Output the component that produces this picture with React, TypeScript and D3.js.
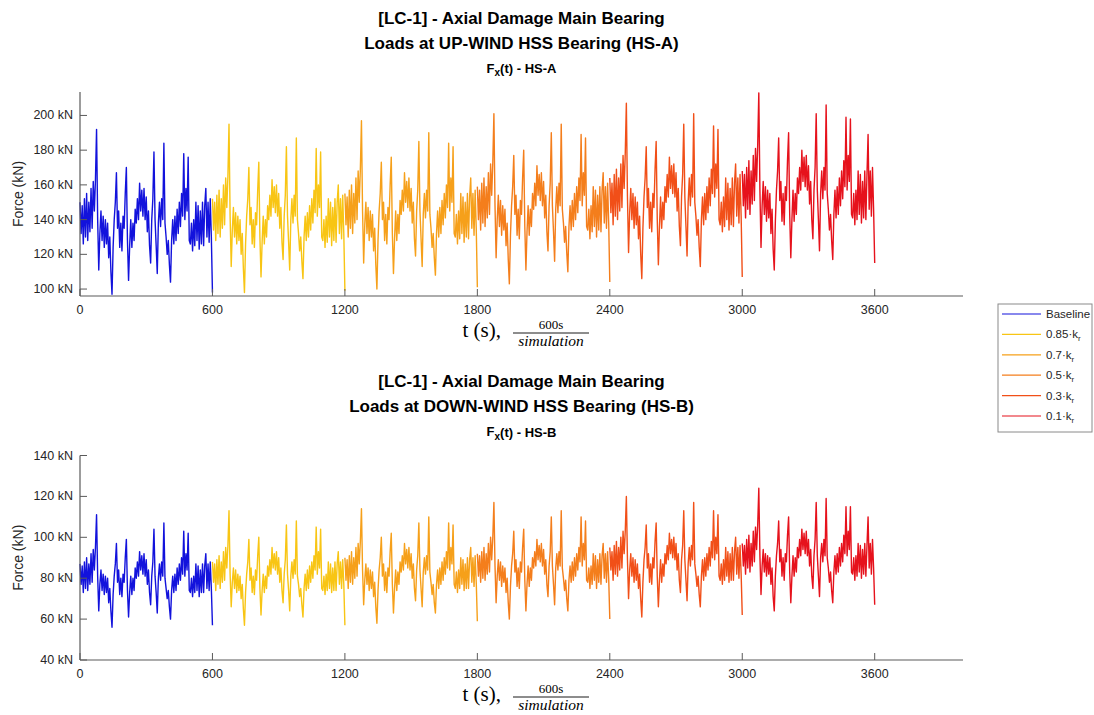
import React from 'react';
import * as d3 from 'd3';

// ---------- data ----------
const SAMPLE_STEP = 5; // s between samples
const SEGMENT_STARTS = [0, 600, 1200, 1800, 2400, 3000];
const SERIES_LABELS = ['Baseline', '0.85', '0.7', '0.5', '0.3', '0.1'];
const SERIES_COLORS = ['#1212dc', '#f8c514', '#f6a01a', '#f47e1c', '#f14f18', '#e6121c'];
const X_TICKS = [0, 600, 1200, 1800, 2400, 3000, 3600];
const X_DOMAIN = [0, 4000];
const TOP_Y_TICKS = [100, 120, 140, 160, 180, 200];
const TOP_Y_DOMAIN = [96, 213.5];
const BOTTOM_Y_TICKS = [40, 60, 80, 100, 120, 140];
const BOTTOM_Y_DOMAIN = [40, 140];

// HS-A (up-wind) axial force, kN, one value every 5 s of each 600 s simulation
const HSA_BASELINE = [
  150,132,148,126,152,130,155,128,150,133, 158,135,162,145,163,192,140,111,132,145,
  128,142,124,140,126,138,118,130,110,97, 124,140,150,167,135,145,124,138,122,142,
  135,155,170,128,105,125,140,124,138,128, 146,138,152,140,161,145,157,142,158,140,
  153,133,145,125,115,140,152,179,140,125, 109,138,150,136,152,140,184,138,130,120,
  128,114,104,128,140,126,142,128,146,132, 150,136,155,142,178,140,158,145,176,128,
  126,138,122,140,125,150,128,148,123,145, 126,150,125,148,158,130,150,127,152,130, 98];
const HSA_085 = [
  152,134,150,128,154,132,157,130,152,135, 160,137,164,147,165,195,142,113,134,147,
  130,144,126,142,128,140,120,132,112,98, 126,142,152,170,137,147,126,140,124,144,
  137,157,173,130,107,127,142,126,140,130, 148,140,154,142,163,147,159,144,160,142,
  155,135,147,127,117,142,154,182,142,127, 111,140,152,138,154,142,187,140,132,122,
  130,116,106,130,142,128,144,130,148,134, 152,138,157,144,181,142,160,147,179,130,
  128,140,124,142,127,152,130,150,125,147, 128,152,127,150,160,132,152,129,154,132, 99];
const HSA_07 = [
  155,137,153,130,157,135,160,132,155,138, 164,140,168,150,169,197,145,115,137,150,
  132,147,128,145,130,143,122,135,114,100, 128,145,155,173,140,150,128,143,126,147,
  140,160,176,132,109,129,145,128,143,132, 151,143,157,145,167,150,162,147,164,145,
  158,138,150,129,119,145,157,185,145,129, 113,143,155,141,157,145,190,143,135,124,
  132,118,108,132,145,130,147,132,151,137, 155,141,160,147,184,145,164,150,182,132,
  130,143,126,145,129,155,132,153,127,150, 130,155,129,153,164,135,155,131,157,135, 101];
const HSA_05 = [
  159,140,157,134,161,138,164,136,159,141, 167,143,172,154,173,201,148,118,140,154,
  136,151,131,148,134,146,125,138,117,103, 131,148,159,177,143,154,131,146,129,151,
  143,164,180,136,111,133,148,131,146,136, 155,146,161,148,171,154,166,151,167,148,
  162,141,154,133,122,148,161,190,148,133, 116,146,159,144,161,148,195,146,138,127,
  136,121,110,136,148,134,151,136,155,140, 159,144,164,151,189,148,167,154,187,136,
  134,146,129,148,133,159,136,157,130,154, 134,159,133,157,167,138,159,135,161,138, 104];
const HSA_03 = [
  164,144,161,137,166,142,169,140,164,145, 172,147,177,158,178,207,153,121,144,158,
  140,155,135,153,137,150,129,142,120,106, 135,153,164,182,147,158,135,150,133,155,
  147,169,185,140,114,136,153,135,150,140, 159,150,166,153,176,158,171,155,172,153,
  167,145,158,136,125,153,166,195,153,136, 119,150,164,148,166,153,201,150,142,131,
  140,124,113,140,153,137,155,140,159,144, 164,148,169,155,194,153,172,158,192,140,
  137,150,133,153,136,164,140,161,134,158, 137,164,136,161,172,142,164,138,166,142, 107];
const HSA_01 = [
  168,148,166,141,170,146,174,143,168,149, 177,151,181,162,183,213,157,124,148,162,
  143,159,139,157,141,155,132,146,123,111, 139,157,168,187,151,162,139,155,137,159,
  151,174,190,143,118,140,157,139,155,143, 164,155,170,157,180,162,176,159,177,157,
  171,149,162,140,129,157,170,201,157,140, 122,155,168,152,170,157,206,155,146,134,
  143,128,117,143,157,141,159,143,164,148, 168,152,174,159,199,157,177,162,198,143,
  141,155,137,157,140,168,143,166,138,162, 141,168,140,166,189,146,168,142,170,146, 115];

// HS-B (down-wind) axial force, kN
const HSB_BASELINE = [
  87,77,86,73,88,75,90,74,87,77, 92,78,94,84,95,111,81,64,77,84,
  74,82,72,81,73,80,68,75,64,56, 72,81,87,97,78,84,72,80,71,82,
  78,90,99,74,61,73,81,72,80,74, 85,80,88,81,93,84,91,82,92,81,
  89,77,84,73,67,81,88,104,81,73, 63,80,87,79,88,81,107,80,75,70,
  74,66,60,74,81,73,82,74,85,77, 87,79,90,82,103,81,92,84,102,74,
  73,80,71,81,73,87,74,86,71,84, 73,87,73,86,92,75,87,74,88,75, 57];
const HSB_085 = [
  88,78,87,74,89,77,91,75,88,78, 93,79,95,85,96,113,82,66,78,85,
  75,84,73,82,74,81,70,77,65,57, 73,82,88,99,79,85,73,81,72,84,
  79,91,100,75,62,74,82,73,81,75, 86,81,89,82,95,85,92,84,93,82,
  90,78,85,74,68,82,89,106,82,74, 64,81,88,80,89,82,108,81,77,71,
  75,67,61,75,82,74,84,75,86,78, 88,80,91,84,105,82,93,85,104,75,
  74,81,72,82,74,88,75,87,73,85, 74,88,74,87,93,77,88,75,89,77, 57];
const HSB_07 = [
  90,79,89,75,91,78,93,77,90,80, 95,81,97,87,98,114,84,67,79,87,
  77,85,74,84,75,83,71,78,66,58, 74,84,90,100,81,87,74,83,73,85,
  81,93,102,77,63,75,84,74,83,77, 88,83,91,84,97,87,94,85,95,84,
  92,80,87,75,69,84,91,107,84,75, 66,83,90,82,91,84,110,83,78,72,
  77,68,63,77,84,75,85,77,88,79, 90,82,93,85,107,84,95,87,106,77,
  75,83,73,84,75,90,77,89,74,87, 75,90,75,89,95,78,90,76,91,78, 59];
const HSB_05 = [
  92,81,91,78,93,80,95,79,92,82, 97,83,100,89,100,117,86,68,81,89,
  79,88,76,86,78,85,73,80,68,60, 76,86,92,103,83,89,76,85,75,88,
  83,95,104,79,64,77,86,76,85,79, 90,85,93,86,99,89,96,88,97,86,
  94,82,89,77,71,86,93,110,86,77, 67,85,92,84,93,86,113,85,80,74,
  79,70,64,79,86,78,88,79,90,81, 92,84,95,88,110,86,97,89,108,79,
  78,85,75,86,77,92,79,91,75,89, 78,92,77,91,97,80,92,78,93,80, 60];
const HSB_03 = [
  95,84,93,79,96,82,98,81,95,84, 100,85,103,92,103,120,89,70,84,92,
  81,90,78,89,79,87,75,82,70,61, 78,89,95,106,85,92,78,87,77,90,
  85,98,107,81,66,79,89,78,87,81, 92,87,96,89,102,92,99,90,100,89,
  97,84,92,79,73,89,96,113,89,79, 69,87,95,86,96,89,117,87,82,76,
  81,72,66,81,89,79,90,81,92,84, 95,86,98,90,113,89,100,92,111,81,
  79,87,77,89,79,95,81,93,78,92, 79,95,79,93,100,82,95,80,96,82, 62];
const HSB_01 = [
  97,86,96,82,99,85,101,83,97,86, 103,88,105,94,106,124,91,72,86,94,
  83,92,81,91,82,90,77,85,71,64, 81,91,97,108,88,94,81,90,79,92,
  88,101,110,83,68,81,91,81,90,83, 95,90,99,91,104,94,102,92,103,91,
  99,86,94,81,75,91,99,117,91,81, 71,90,97,88,99,91,119,90,85,78,
  83,74,68,83,91,82,92,83,95,86, 97,88,101,92,115,91,103,94,115,83,
  82,90,79,91,81,97,83,96,80,94, 82,97,81,96,110,85,97,82,99,85, 67];

const HSA_SERIES = [HSA_BASELINE, HSA_085, HSA_07, HSA_05, HSA_03, HSA_01];
const HSB_SERIES = [HSB_BASELINE, HSB_085, HSB_07, HSB_05, HSB_03, HSB_01];

// ---------- layout ----------
const W = 1094;
const H = 715;
const PLOT_LEFT = 80;
const PLOT_RIGHT = 963;
const AXIS_COLOR = '#5a5a5a';
const TEXT_COLOR = '#262626';
const SANS = 'Arial, "Liberation Sans", Helvetica, sans-serif';
const SERIF = '"Liberation Serif", "DejaVu Serif", serif';

type PanelProps = {
  top: number;
  bottom: number;
  yDomain: number[];
  yTicks: number[];
  series: number[][];
  line1: string;
  line2: string;
  sub: string;
};

function Panel({ top, bottom, yDomain, yTicks, series, line1, line2, sub }: PanelProps) {
  const x = d3.scaleLinear().domain(X_DOMAIN).range([PLOT_LEFT, PLOT_RIGHT]);
  const y = d3.scaleLinear().domain(yDomain).range([bottom, top]);
  const cx = (PLOT_LEFT + PLOT_RIGHT) / 2;
  const tickLen = 7;
  return (
    <g>
      <text x={cx} y={top - 74} textAnchor="middle" dominantBaseline="central"
        fontFamily={SANS} fontWeight="bold" fontSize={17} fill="#000">{line1}</text>
      <text x={cx} y={top - 49} textAnchor="middle" dominantBaseline="central"
        fontFamily={SANS} fontWeight="bold" fontSize={17} fill="#000">{line2}</text>
      <text x={cx} y={top - 24} textAnchor="middle" dominantBaseline="central"
        fontFamily={SANS} fontWeight="bold" fontSize={13} fill="#000">
        F<tspan fontSize={10} dy={4}>x</tspan><tspan dy={-4}>{'(t) - ' + sub}</tspan>
      </text>

      {series.map((vals, k) => {
        const line = d3.line<number>()
          .x((_, i) => x(SEGMENT_STARTS[k] + i * SAMPLE_STEP))
          .y((v) => y(v));
        return (
          <path key={k} d={line(vals) || ''} fill="none" stroke={SERIES_COLORS[k]}
            strokeWidth={1.4} strokeLinejoin="round" />
        );
      })}

      <line x1={PLOT_LEFT} x2={PLOT_LEFT} y1={top} y2={bottom} stroke={AXIS_COLOR} strokeWidth={1.2} />
      <line x1={PLOT_LEFT} x2={PLOT_RIGHT} y1={bottom} y2={bottom} stroke={AXIS_COLOR} strokeWidth={1.2} />
      {X_TICKS.map((t) => (
        <g key={'x' + t}>
          <line x1={x(t)} x2={x(t)} y1={bottom} y2={bottom - tickLen} stroke={AXIS_COLOR} strokeWidth={1} />
          <text x={x(t)} y={bottom + 14} textAnchor="middle" dominantBaseline="central"
            fontFamily={SANS} fontSize={12.5} fill={TEXT_COLOR}>{t}</text>
        </g>
      ))}
      {yTicks.map((v) => (
        <g key={'y' + v}>
          <line x1={PLOT_LEFT} x2={PLOT_LEFT + tickLen} y1={y(v)} y2={y(v)} stroke={AXIS_COLOR} strokeWidth={1} />
          <text x={PLOT_LEFT - 7} y={y(v)} textAnchor="end" dominantBaseline="central"
            fontFamily={SANS} fontSize={12.5} fill={TEXT_COLOR}>{v + ' kN'}</text>
        </g>
      ))}

      <text transform={`translate(18,${(top + bottom) / 2}) rotate(-90)`} textAnchor="middle"
        dominantBaseline="central" fontFamily={SANS} fontSize={14} fill={TEXT_COLOR}>Force (kN)</text>

      <text x={501} y={bottom + 41} textAnchor="end" fontFamily={SERIF} fontSize={21} fill="#000">t (s),</text>
      <text x={551} y={bottom + 33} textAnchor="middle" fontFamily={SERIF} fontSize={13} fill="#000">600s</text>
      <line x1={513} x2={589} y1={bottom + 37} y2={bottom + 37} stroke="#000" strokeWidth={0.9} />
      <text x={551} y={bottom + 50} textAnchor="middle" fontFamily={SERIF} fontStyle="italic" fontSize={15.5} fill="#000">simulation</text>
    </g>
  );
}

function Legend() {
  const x0 = 998;
  const y0 = 304;
  const rowH = 20.4;
  return (
    <g>
      <rect x={x0} y={y0} width={94} height={128} fill="#fff" stroke="#8a8a8a" strokeWidth={1} />
      {SERIES_LABELS.map((lab, i) => {
        const yy = y0 + 10 + i * rowH;
        return (
          <g key={lab}>
            <line x1={x0 + 4} x2={x0 + 43} y1={yy} y2={yy} stroke={SERIES_COLORS[i]} strokeWidth={1.2} />
            <text x={x0 + 48} y={yy} dominantBaseline="central" fontFamily={SANS} fontSize={11.5} fill={TEXT_COLOR}>
              {i === 0 ? lab : (
                <>
                  {lab + '\u00b7k'}
                  <tspan fontSize={8} dy={4}>r</tspan>
                </>
              )}
            </text>
          </g>
        );
      })}
    </g>
  );
}

export default function App() {
  return (
    <svg width={W} height={H} viewBox={`0 0 ${W} ${H}`}
      style={{ position: 'absolute', left: 0, top: 0, background: '#fff' }}>
      <rect x={0} y={0} width={W} height={H} fill="#fff" />
      <Panel top={92} bottom={296} yDomain={TOP_Y_DOMAIN} yTicks={TOP_Y_TICKS} series={HSA_SERIES}
        line1="[LC-1] - Axial Damage Main Bearing" line2="Loads at UP-WIND HSS Bearing (HS-A)" sub="HS-A" />
      <Panel top={455.5} bottom={660} yDomain={BOTTOM_Y_DOMAIN} yTicks={BOTTOM_Y_TICKS} series={HSB_SERIES}
        line1="[LC-1] - Axial Damage Main Bearing" line2="Loads at DOWN-WIND HSS Bearing (HS-B)" sub="HS-B" />
      <Legend />
    </svg>
  );
}
